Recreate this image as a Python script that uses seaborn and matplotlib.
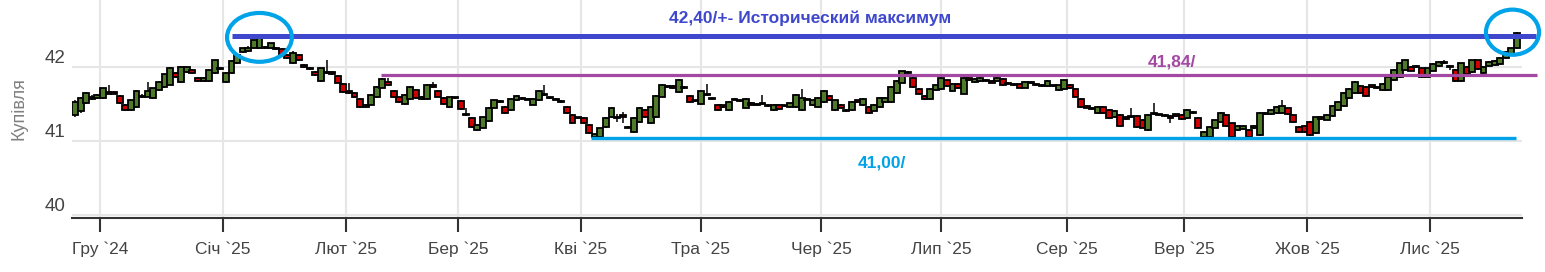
import numpy as np
import pandas as pd
import matplotlib
matplotlib.use("Agg")
import matplotlib.pyplot as plt
from matplotlib.patches import Ellipse
import seaborn as sns

# ---------------- data ----------------
opens = [41.35, 41.40, 41.51, 41.57, 41.58, 41.58, 41.66, 41.66, 41.61, 41.49,
         41.42, 41.46, 41.61, 41.60, 41.58, 41.69, 41.73, 41.76, 41.92, 41.80,
         41.93, 41.96, 41.85, 41.81, 41.81, 41.92, 41.99, 41.80, 41.92, 42.05,
         42.20, 42.21, 42.25, 42.25, 42.26, 42.25, 42.26, 42.24, 42.16, 42.05,
         42.16, 42.03, 41.99, 41.93, 41.81, 41.93, 41.93, 41.88, 41.77, 41.67,
         41.65, 41.57, 41.46, 41.49, 41.59, 41.72, 41.80, 41.68, 41.59, 41.50,
         41.57, 41.69, 41.57, 41.57, 41.76, 41.68, 41.58, 41.46, 41.59, 41.54,
         41.36, 41.31, 41.15, 41.18, 41.27, 41.45, 41.54, 41.46, 41.42, 41.55,
         41.58, 41.57, 41.49, 41.55, 41.63, 41.59, 41.57, 41.54, 41.46, 41.35,
         41.32, 41.31, 41.22, 41.05, 41.05, 41.19, 41.32, 41.32, 41.35, 41.19,
         41.12, 41.26, 41.42, 41.24, 41.32, 41.60, 41.74, 41.74, 41.66, 41.73,
         41.61, 41.55, 41.50, 41.64, 41.58, 41.49, 41.48, 41.42, 41.57, 41.55,
         41.45, 41.52, 41.50, 41.52, 41.49, 41.42, 41.49, 41.48, 41.46, 41.46,
         41.42, 41.57, 41.48, 41.46, 41.53, 41.61, 41.42, 41.49, 41.42, 41.42,
         41.55, 41.48, 41.46, 41.41, 41.46, 41.53, 41.53, 41.65, 41.79, 41.93,
         41.85, 41.70, 41.61, 41.57, 41.69, 41.70, 41.82, 41.67, 41.77, 41.64,
         41.85, 41.80, 41.81, 41.83, 41.81, 41.81, 41.84, 41.79, 41.77, 41.77,
         41.72, 41.80, 41.77, 41.76, 41.74, 41.75, 41.69, 41.70, 41.76, 41.70,
         41.57, 41.47, 41.45, 41.38, 41.46, 41.42, 41.32, 41.35, 41.32, 41.33,
         41.34, 41.29, 41.15, 41.38, 41.36, 41.35, 41.34, 41.36, 41.35, 41.31,
         41.39, 41.31, 41.05, 41.05, 41.18, 41.26, 41.35, 41.24, 41.15, 41.16,
         41.15, 41.17, 41.08, 41.36, 41.36, 41.38, 41.38, 41.44, 41.35, 41.19,
         41.20, 41.26, 41.11, 41.30, 41.29, 41.34, 41.42, 41.47, 41.58, 41.65,
         41.74, 41.73, 41.75, 41.73, 41.69, 41.69, 41.82, 41.86, 41.96, 42.00,
         42.02, 41.98, 41.86, 41.95, 42.01, 42.07, 42.02, 41.96, 41.81, 42.00,
         41.93, 42.09, 41.92, 42.01, 42.03, 42.04, 42.12, 42.17, 42.25]
closes = [41.53, 41.58, 41.65, 41.60, 41.62, 41.71, 41.64, 41.64, 41.51, 41.42,
          41.55, 41.68, 41.59, 41.68, 41.71, 41.80, 41.90, 41.99, 41.86, 42.00,
          42.00, 41.92, 41.81, 41.85, 41.96, 42.09, 41.97, 41.92, 42.08, 42.16,
          42.25, 42.25, 42.36, 42.39, 42.25, 42.32, 42.24, 42.16, 42.12, 42.19,
          42.09, 42.00, 41.97, 41.89, 41.98, 41.92, 41.90, 41.79, 41.66, 41.65,
          41.59, 41.46, 41.49, 41.62, 41.73, 41.84, 41.76, 41.59, 41.53, 41.62,
          41.73, 41.58, 41.60, 41.76, 41.73, 41.60, 41.50, 41.59, 41.58, 41.43,
          41.35, 41.19, 41.22, 41.32, 41.45, 41.55, 41.53, 41.38, 41.57, 41.61,
          41.57, 41.56, 41.57, 41.68, 41.62, 41.58, 41.56, 41.53, 41.38, 41.24,
          41.31, 41.24, 41.11, 41.09, 41.17, 41.31, 41.45, 41.31, 41.33, 41.18,
          41.31, 41.45, 41.32, 41.46, 41.61, 41.76, 41.73, 41.71, 41.82, 41.71,
          41.53, 41.54, 41.68, 41.62, 41.57, 41.42, 41.46, 41.53, 41.56, 41.54,
          41.57, 41.49, 41.48, 41.50, 41.47, 41.49, 41.43, 41.47, 41.51, 41.62,
          41.58, 41.56, 41.55, 41.58, 41.68, 41.55, 41.55, 41.45, 41.40, 41.53,
          41.53, 41.57, 41.38, 41.49, 41.58, 41.58, 41.73, 41.81, 41.94, 41.92,
          41.73, 41.64, 41.57, 41.70, 41.75, 41.85, 41.74, 41.77, 41.71, 41.85,
          41.82, 41.84, 41.85, 41.81, 41.79, 41.85, 41.75, 41.77, 41.75, 41.72,
          41.80, 41.78, 41.75, 41.74, 41.81, 41.74, 41.75, 41.82, 41.71, 41.60,
          41.46, 41.45, 41.43, 41.46, 41.38, 41.31, 41.41, 41.20, 41.30, 41.32,
          41.19, 41.18, 41.35, 41.36, 41.35, 41.34, 41.31, 41.34, 41.30, 41.42,
          41.38, 41.18, 41.12, 41.19, 41.28, 41.38, 41.20, 41.05, 41.20, 41.20,
          41.05, 41.20, 41.38, 41.38, 41.42, 41.46, 41.47, 41.36, 41.26, 41.12,
          41.12, 41.08, 41.32, 41.33, 41.35, 41.47, 41.53, 41.65, 41.70, 41.80,
          41.65, 41.61, 41.73, 41.71, 41.77, 41.86, 41.96, 42.05, 42.09, 41.95,
          42.00, 41.86, 41.98, 42.04, 42.07, 42.05, 42.00, 41.81, 42.05, 41.90,
          42.09, 41.97, 42.00, 42.07, 42.08, 42.12, 42.20, 42.25, 42.46]
highs = [41.55, 41.60, 41.66, 41.62, 41.64, 41.72, 41.76, 41.68, 41.62, 41.50,
         41.56, 41.69, 41.64, 41.80, 41.72, 41.81, 41.91, 42.00, 41.93, 42.01,
         42.02, 41.97, 41.86, 41.86, 41.97, 42.10, 42.00, 41.93, 42.09, 42.17,
         42.26, 42.28, 42.37, 42.40, 42.28, 42.33, 42.27, 42.25, 42.17, 42.21,
         42.17, 42.04, 42.00, 41.94, 41.99, 42.09, 41.94, 41.89, 41.78, 41.78,
         41.66, 41.58, 41.50, 41.63, 41.74, 41.85, 41.85, 41.69, 41.60, 41.63,
         41.74, 41.70, 41.61, 41.77, 41.80, 41.69, 41.59, 41.60, 41.60, 41.55,
         41.45, 41.32, 41.23, 41.33, 41.46, 41.56, 41.55, 41.47, 41.58, 41.62,
         41.59, 41.58, 41.58, 41.69, 41.75, 41.60, 41.58, 41.55, 41.47, 41.36,
         41.33, 41.32, 41.23, 41.10, 41.18, 41.32, 41.46, 41.36, 41.39, 41.20,
         41.32, 41.46, 41.43, 41.47, 41.62, 41.77, 41.75, 41.75, 41.84, 41.74,
         41.62, 41.56, 41.69, 41.77, 41.59, 41.50, 41.49, 41.54, 41.58, 41.56,
         41.58, 41.53, 41.51, 41.62, 41.50, 41.50, 41.50, 41.49, 41.52, 41.63,
         41.70, 41.58, 41.56, 41.59, 41.69, 41.62, 41.56, 41.50, 41.43, 41.54,
         41.56, 41.58, 41.47, 41.50, 41.59, 41.59, 41.74, 41.82, 41.95, 41.94,
         41.86, 41.71, 41.62, 41.71, 41.76, 41.86, 41.83, 41.78, 41.78, 41.86,
         41.88, 41.85, 41.86, 41.84, 41.82, 41.88, 41.85, 41.80, 41.78, 41.78,
         41.81, 41.81, 41.78, 41.77, 41.82, 41.76, 41.76, 41.83, 41.77, 41.71,
         41.58, 41.48, 41.46, 41.47, 41.47, 41.43, 41.42, 41.36, 41.33, 41.44,
         41.35, 41.30, 41.36, 41.51, 41.37, 41.36, 41.35, 41.37, 41.36, 41.43,
         41.40, 41.32, 41.13, 41.20, 41.29, 41.39, 41.36, 41.25, 41.21, 41.21,
         41.16, 41.21, 41.39, 41.39, 41.43, 41.47, 41.55, 41.45, 41.36, 41.20,
         41.21, 41.27, 41.33, 41.34, 41.36, 41.48, 41.54, 41.66, 41.71, 41.81,
         41.75, 41.74, 41.76, 41.74, 41.78, 41.87, 41.97, 42.06, 42.10, 42.01,
         42.03, 41.99, 41.99, 42.05, 42.08, 42.09, 42.03, 41.97, 42.06, 42.01,
         42.10, 42.10, 42.01, 42.08, 42.09, 42.13, 42.21, 42.26, 42.47]
lows = [41.33, 41.38, 41.50, 41.56, 41.57, 41.57, 41.63, 41.63, 41.50, 41.41,
        41.41, 41.45, 41.58, 41.59, 41.57, 41.68, 41.72, 41.75, 41.85, 41.79,
        41.92, 41.91, 41.80, 41.80, 41.80, 41.91, 41.96, 41.79, 41.91, 42.04,
        42.19, 42.20, 42.24, 42.24, 42.24, 42.24, 42.23, 42.15, 42.11, 42.04,
        42.08, 41.99, 41.96, 41.88, 41.80, 41.91, 41.89, 41.78, 41.65, 41.64,
        41.58, 41.45, 41.45, 41.48, 41.58, 41.71, 41.75, 41.58, 41.52, 41.49,
        41.56, 41.57, 41.56, 41.56, 41.72, 41.59, 41.49, 41.45, 41.57, 41.42,
        41.34, 41.18, 41.14, 41.17, 41.26, 41.44, 41.52, 41.37, 41.41, 41.54,
        41.56, 41.55, 41.48, 41.54, 41.61, 41.57, 41.55, 41.52, 41.37, 41.23,
        41.30, 41.23, 41.10, 41.04, 41.04, 41.18, 41.31, 41.26, 41.25, 41.17,
        41.11, 41.25, 41.31, 41.23, 41.31, 41.59, 41.72, 41.70, 41.65, 41.70,
        41.52, 41.53, 41.49, 41.61, 41.56, 41.41, 41.45, 41.41, 41.55, 41.53,
        41.44, 41.48, 41.47, 41.49, 41.46, 41.41, 41.42, 41.46, 41.45, 41.45,
        41.41, 41.55, 41.47, 41.45, 41.52, 41.54, 41.41, 41.44, 41.39, 41.41,
        41.52, 41.47, 41.37, 41.40, 41.45, 41.52, 41.52, 41.64, 41.78, 41.91,
        41.72, 41.63, 41.56, 41.56, 41.68, 41.69, 41.73, 41.66, 41.70, 41.63,
        41.81, 41.79, 41.80, 41.80, 41.78, 41.80, 41.74, 41.76, 41.74, 41.71,
        41.71, 41.77, 41.74, 41.73, 41.73, 41.73, 41.68, 41.69, 41.70, 41.59,
        41.45, 41.44, 41.42, 41.37, 41.37, 41.30, 41.31, 41.19, 41.29, 41.31,
        41.18, 41.17, 41.14, 41.35, 41.34, 41.33, 41.24, 41.33, 41.29, 41.30,
        41.37, 41.17, 41.04, 41.04, 41.17, 41.25, 41.19, 41.04, 41.14, 41.15,
        41.04, 41.16, 41.07, 41.35, 41.35, 41.37, 41.37, 41.35, 41.25, 41.11,
        41.11, 41.07, 41.10, 41.29, 41.28, 41.33, 41.41, 41.46, 41.57, 41.64,
        41.64, 41.60, 41.72, 41.70, 41.68, 41.68, 41.81, 41.85, 41.95, 41.94,
        41.99, 41.85, 41.85, 41.94, 42.00, 42.04, 41.96, 41.80, 41.80, 41.89,
        41.92, 41.96, 41.91, 42.00, 42.02, 42.03, 42.11, 42.16, 42.24]

month_labels = ["Гру `24", "Січ `25", "Лют `25", "Бер `25", "Кві `25", "Тра `25",
                "Чер `25", "Лип `25", "Сер `25", "Вер `25", "Жов `25", "Лис `25"]
month_pos = [4.5, 26.5, 48.5, 68.5, 90.5, 112.0, 133.5, 155.0, 177.5, 198.5, 220.5, 242.5]
y_ticks = [40, 41, 42]

level_values = [42.42, 41.89, 41.04]
level_start = [28.1, 54.7, 92.3]
level_end = [261.4, 261.6, 257.8]
level_colors = ["#3f48cc", "#a349a4", "#00a2e8"]
level_widths = [3.6, 2.3, 2.4]
level_labels = ["42,40/+- Исторический максимум", "41,84/", "41,00/"]
label_x = [131.5, 196.2, 144.4]
label_y = [42.66, 42.07, 40.70]

circle_x = [33.0, 257.2]
circle_y = [42.40, 42.47]
circle_w = [11.6, 9.5]
circle_h = [0.66, 0.61]

# ---------------- figure ----------------
sns.set_theme(style="white")
plt.rcParams['font.family'] = ['Liberation Sans', 'DejaVu Sans']

df = pd.DataFrame({"open": opens, "close": closes, "high": highs, "low": lows})
df["idx"] = np.arange(len(df))
df["up"] = df["close"] >= df["open"]

fig = plt.figure(figsize=(15.45, 2.72), dpi=100)
ax = fig.add_axes([72 / 1545, 1 - 218 / 272, 1450 / 1545, 218 / 272])

# grid
for p in month_pos:
    ax.axvline(p, color="#e6e6e6", lw=1.5, zorder=0)
for v in y_ticks:
    ax.axhline(v, color="#e6e6e6", lw=1.5, zorder=0)

# wicks
ax.vlines(df["idx"], df["low"], df["high"], color="black", lw=1.1, zorder=2)
# bodies
body_bottom = np.minimum(df["open"], df["close"])
body_h = np.maximum(np.abs(df["close"] - df["open"]), 0.014)
colors = np.where(df["up"], "#4f7a2a", "#d10000")
ax.bar(df["idx"], body_h, bottom=body_bottom, width=1.05, color=colors,
       edgecolor="black", linewidth=1.3, zorder=3)

# level lines
for v, s, e, c, w in zip(level_values, level_start, level_end, level_colors, level_widths):
    ax.plot([s, e], [v, v], color=c, lw=w, solid_capstyle="butt", zorder=4, clip_on=False)
for t, x, y, c in zip(level_labels, label_x, label_y, level_colors):
    ax.text(x, y, t, color=c, fontsize=12.5, fontweight="bold", ha="center", va="center", zorder=5)

for x, y, w, h in zip(circle_x, circle_y, circle_w, circle_h):
    ax.add_patch(Ellipse((x, y), w, h, fill=False, edgecolor="#00a2e8", lw=3.0,
                         zorder=6, clip_on=False))

ax.set_xlim(-0.54, 258.9)
ax.set_ylim(39.96, 42.905)

ax.set_xticks(month_pos)
ax.set_xticklabels(month_labels, fontsize=12.5, color="#444444")
ax.set_yticks(y_ticks)
ax.set_yticklabels([str(v) for v in y_ticks], fontsize=13.5, color="#444444")
for lab in ax.get_yticklabels():
    lab.set_verticalalignment("bottom")
ax.tick_params(axis="x", which="major", bottom=True, direction="out", length=10,
               width=1.5, color="#333333", pad=7)
ax.tick_params(axis="y", left=False, length=0, pad=5)
ax.set_ylabel("Купівля", fontsize=13, color="#808080", labelpad=12)

for s in ["top", "right", "left"]:
    ax.spines[s].set_visible(False)
ax.spines["bottom"].set_color("#333333")
ax.spines["bottom"].set_linewidth(1.5)
ax.grid(False)

fig.savefig("out.png", dpi=100)
